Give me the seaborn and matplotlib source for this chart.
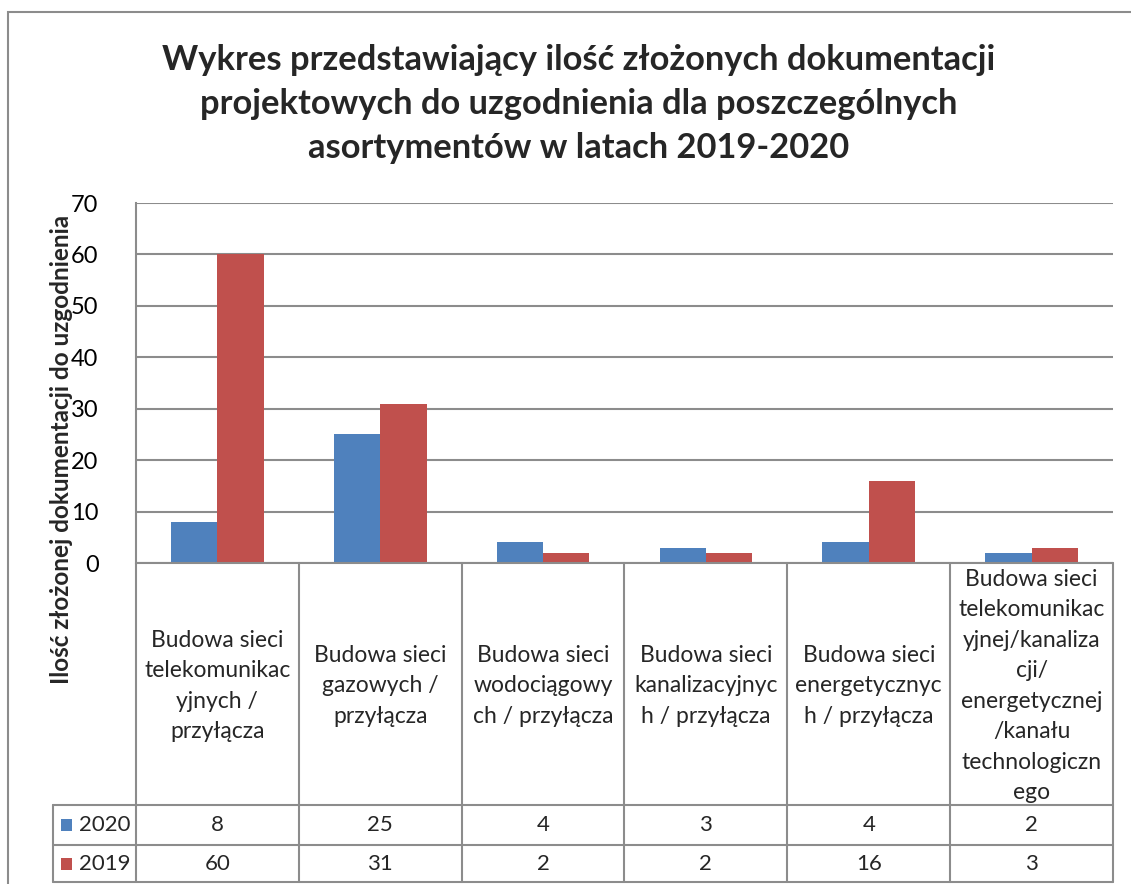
import matplotlib
matplotlib.use("Agg")
import matplotlib.pyplot as plt
import matplotlib.transforms as mtransforms
from matplotlib.lines import Line2D
from matplotlib.patches import Rectangle
import seaborn as sns
import pandas as pd

# ---- data ----
categories = [
    "Budowa sieci\ntelekomunikac\nyjnych /\nprzyłącza",
    "Budowa sieci\ngazowych /\nprzyłącza",
    "Budowa sieci\nwodociągowy\nch / przyłącza",
    "Budowa sieci\nkanalizacyjnyc\nh / przyłącza",
    "Budowa sieci\nenergetycznyc\nh / przyłącza",
    "Budowa sieci\ntelekomunikac\nyjnej/kanaliza\ncji/\nenergetycznej\n/kanału\ntechnologiczn\nego",
]
series_names = ["2020", "2019"]
values_2020 = [8, 25, 4, 3, 4, 2]
values_2019 = [60, 31, 2, 2, 16, 3]
colors = ["#4F81BD", "#C0504D"]
title = ("Wykres przedstawiający ilość złożonych dokumentacji\n"
         "projektowych do uzgodnienia dla poszczególnych\n"
         "asortymentów w latach 2019-2020")
ylabel = "Ilość złożonej dokumentacji do uzgodnienia"
yticks = [0, 10, 20, 30, 40, 50, 60, 70]

df = pd.DataFrame({
    "cat": list(range(len(categories))) * 2,
    "year": ["2020"] * len(categories) + ["2019"] * len(categories),
    "val": values_2020 + values_2019,
})

sns.set_theme(style="white")
plt.rcParams["font.family"] = ["Lato", "DejaVu Sans"]

W, H = 1131, 884
fig = plt.figure(figsize=(W / 100, H / 100), dpi=100)
fig.patch.set_facecolor("white")

def fx(x):
    return x / W

def fy(y):
    return 1 - y / H

left, right, top, bottom = 136, 1113, 203, 563
ax = fig.add_axes([fx(left), fy(bottom), fx(right - left), (bottom - top) / H])

sns.barplot(data=df, x="cat", y="val", hue="year", hue_order=series_names,
            palette=colors, width=0.57, ax=ax, legend=False,
            saturation=1, edgecolor="none")

gc = "#8C8C8C"
ax.set_xlim(-0.5, len(categories) - 0.5)
ax.set_ylim(0, 70)
ax.set_yticks(yticks)
ax.set_yticklabels([str(t) for t in yticks], fontsize=17)
ax.tick_params(axis="y", length=0, pad=27, colors="black")
ax.set_xticks([])
ax.set_xlabel("")
ax.set_ylabel("")
ax.yaxis.grid(True, color=gc, linewidth=1.5)
ax.set_axisbelow(True)
for s in ["top", "right", "bottom"]:
    ax.spines[s].set_visible(False)
ax.spines["left"].set_color(gc)
ax.spines["left"].set_linewidth(1.5)

# ---- data table below the axes ----
bt = mtransforms.blended_transform_factory(ax.transData, fig.transFigure)
row_top, row1, row2, row_bot = 563, 805, 845, 882
n = len(categories)
for i in range(n + 1):
    fig.add_artist(Line2D([i - 0.5, i - 0.5], [fy(row_top), fy(row_bot)],
                          transform=bt, color=gc, lw=1.5))
fig.add_artist(Line2D([-0.5, n - 0.5], [fy(row_top), fy(row_top)], transform=bt, color=gc, lw=1.5))
for yy in [row1, row2, row_bot]:
    fig.add_artist(Line2D([fx(53), fx(right)], [fy(yy), fy(yy)],
                          transform=fig.transFigure, color=gc, lw=1.5))
fig.add_artist(Line2D([fx(53), fx(53)], [fy(row1), fy(row_bot)],
                      transform=fig.transFigure, color=gc, lw=1.5))

for i, lab in enumerate(categories):
    fig.text(i, fy((row_top + row1) / 2 + 2), lab, transform=bt,
             ha="center", va="center", fontsize=16.5, linespacing=1.56,
             multialignment="center")

for r, (name, vals, col) in enumerate(zip(series_names, [values_2020, values_2019], colors)):
    yc = (row1 + row2) / 2 if r == 0 else (row2 + row_bot) / 2
    fig.add_artist(Rectangle((fx(61), fy(yc + 6)), 11 / W, 12 / H,
                             transform=fig.transFigure, color=col, lw=0))
    fig.text(fx(79), fy(yc), name, ha="left", va="center", fontsize=16)
    for i, v in enumerate(vals):
        fig.text(i, fy(yc), str(v), transform=bt, ha="center", va="center", fontsize=16)

# ---- title, y label, outer border ----
fig.text(fx(579), fy(104), title, ha="center", va="center", fontsize=24.8,
         fontweight="bold", linespacing=1.45)
fig.text(fx(62), fy(449), ylabel, rotation=90, ha="center", va="center",
         fontsize=17.5, fontweight="bold")
fig.add_artist(Rectangle((fx(8), fy(H + 20)), (W + 20) / W, (H + 8) / H,
                         transform=fig.transFigure, fill=False,
                         edgecolor=gc, lw=1.5))

fig.savefig("out.png", dpi=100)
